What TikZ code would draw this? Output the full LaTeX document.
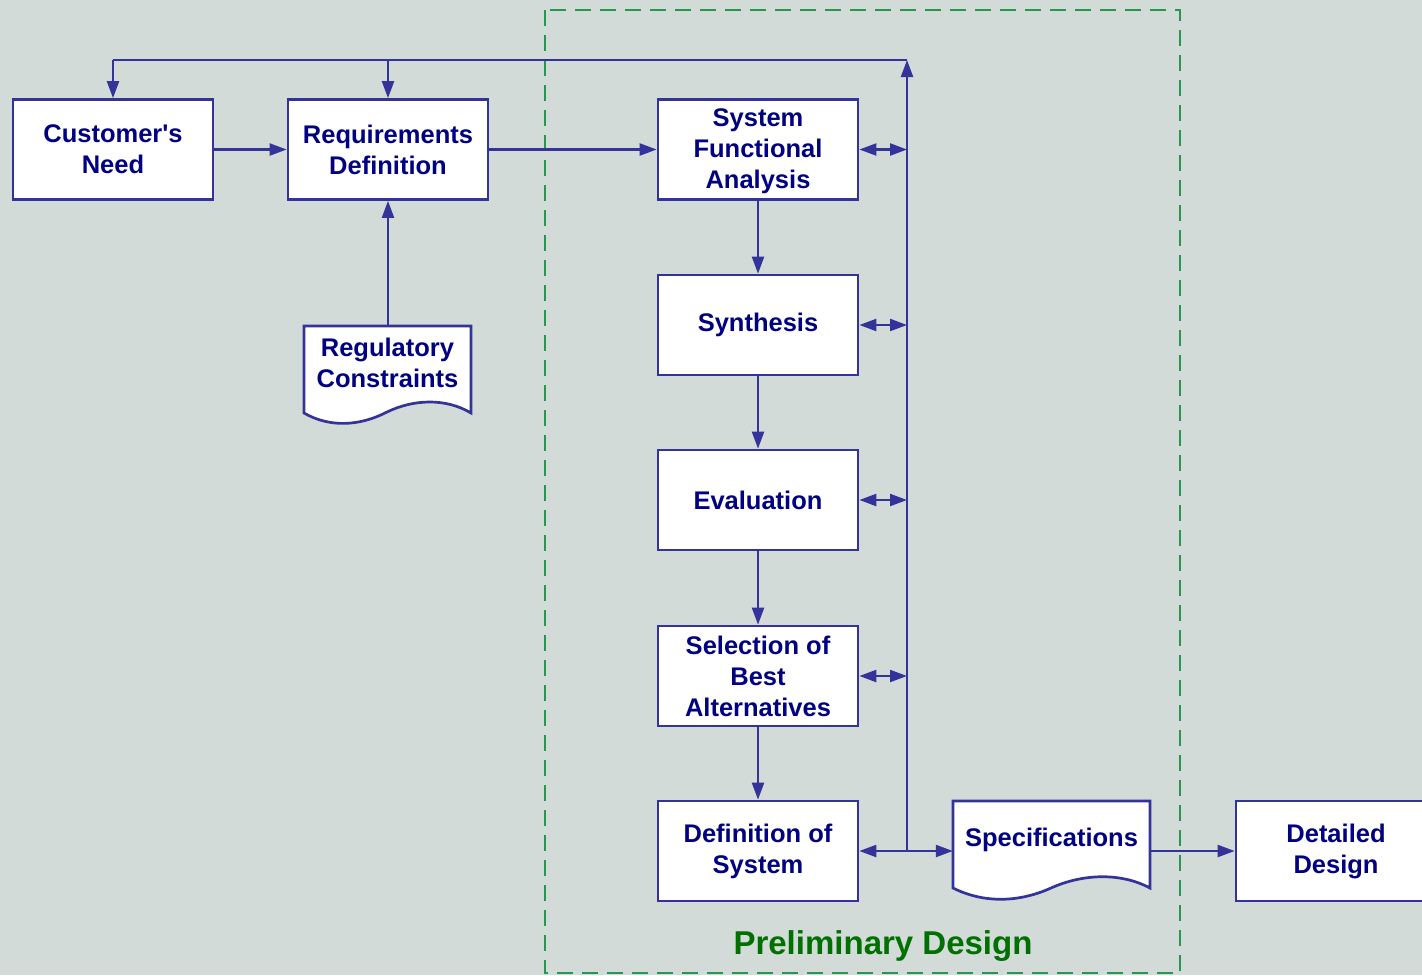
\documentclass[tikz,border=0pt]{standalone}
\usepackage{fontspec}
\setmainfont{Liberation Sans}
\usetikzlibrary{arrows.meta}
\definecolor{bgc}{RGB}{210,219,216}
\definecolor{ln}{RGB}{51,51,153}
\definecolor{tx}{RGB}{0,0,128}
\definecolor{grn}{RGB}{40,150,80}
\definecolor{gtx}{RGB}{0,112,0}
\tikzset{
  txt/.style={align=center, text=tx, font=\fontsize{25.5}{31}\selectfont\bfseries},
  box/.style={txt, draw=ln, line width=2.7pt, fill=white, minimum width=200pt, minimum height=100pt, inner sep=0pt},
  lbl/.style={txt, inner sep=0pt},
  ghost/.style={draw=none, inner sep=0pt},
  tip/.tip={Triangle[length=17pt,width=12pt]},
  conn/.style={draw=ln, line width=2.2pt, -tip},
  bi/.style={draw=ln, line width=2.2pt, tip-tip},
  plain/.style={draw=ln, line width=2.2pt},
  doc/.style={draw=ln, line width=2.7pt, fill=white},
  frame/.style={draw=grn, line width=2pt, dash pattern=on 16pt off 9pt}
}
\begin{document}
\begin{tikzpicture}[x=1pt,y=-1pt]
\useasboundingbox (0,0) rectangle (1422,975);
\clip (0,0) rectangle (1422,975);
\fill[bgc] (0,0) rectangle (1422,975);

% dashed frame
\draw[frame] (545,10) rectangle (1180,973);
\node[ghost, text=gtx, font=\fontsize{33}{40}\selectfont\bfseries] (prelim) at (883,946) {Preliminary Design};

% boxes
\node[box] (cn)  at (113,149.5) {Customer\textquotesingle s\\Need};
\node[box] (rd)  at (388,149.5) {Requirements\\Definition};
\node[box] (sfa) at (758,149.5) {};
\node[lbl] (sfat) at (758,151) {System\\Functional\\Analysis};
\node[box] (syn) at (758,325) {Synthesis};
\node[box] (ev)  at (758,500) {Evaluation};
\node[box] (sel) at (758,676) {Selection of\\Best\\Alternatives};
\node[box] (def) at (758,851) {Definition of\\System};
\node[box] (det) at (1336,851) {Detailed\\Design};

% document shapes
\draw[doc] (304,326) -- (471,326) -- (471,413)
  .. controls (446,398) and (414,399) .. (387,412)
  .. controls (360,426) and (330,428) .. (304,413) -- cycle;
\node[ghost, minimum width=167pt, minimum height=87pt] (regbox) at (387.5,369.5) {};
\node[lbl] (reg) at (387.5,363) {Regulatory\\Constraints};

\draw[doc] (953,801) -- (1150,801) -- (1150,888)
  .. controls (1120,872) and (1082,874) .. (1051,888)
  .. controls (1020,902) and (985,904) .. (953,888) -- cycle;
\node[ghost, minimum width=197pt, minimum height=87pt] (specbox) at (1051.5,844.5) {};
\node[lbl] (spec) at (1051.5,840) {Specifications};

% coordinates for the feedback bus
\coordinate (j) at (907,851);
\coordinate (top) at (907,60);
\coordinate (tl) at (113,60);
\coordinate (tm) at (388,60);

% connectors
\draw[conn] (cn.east) -- (rd.west);
\draw[conn] (rd.east) -- (sfa.west);
\draw[conn] (regbox.north -| rd.south) -- (rd.south);
\draw[conn] (sfa.south) -- (syn.north);
\draw[conn] (syn.south) -- (ev.north);
\draw[conn] (ev.south) -- (sel.north);
\draw[conn] (sel.south) -- (def.north);

\draw[bi] (sfa.east) -- (sfa.east -| j);
\draw[bi] (syn.east) -- (syn.east -| j);
\draw[bi] (ev.east) -- (ev.east -| j);
\draw[bi] (sel.east) -- (sel.east -| j);
\draw[bi] (def.east) -- (def.east -| specbox.west);

\draw[conn] (j) -- (top);
\draw[plain] (top) -- (tl);
\draw[conn] (tl) -- (cn.north);
\draw[conn] (tm) -- (rd.north);

\draw[conn] (def.east -| specbox.east) -- (det.west);
\end{tikzpicture}
\end{document}
